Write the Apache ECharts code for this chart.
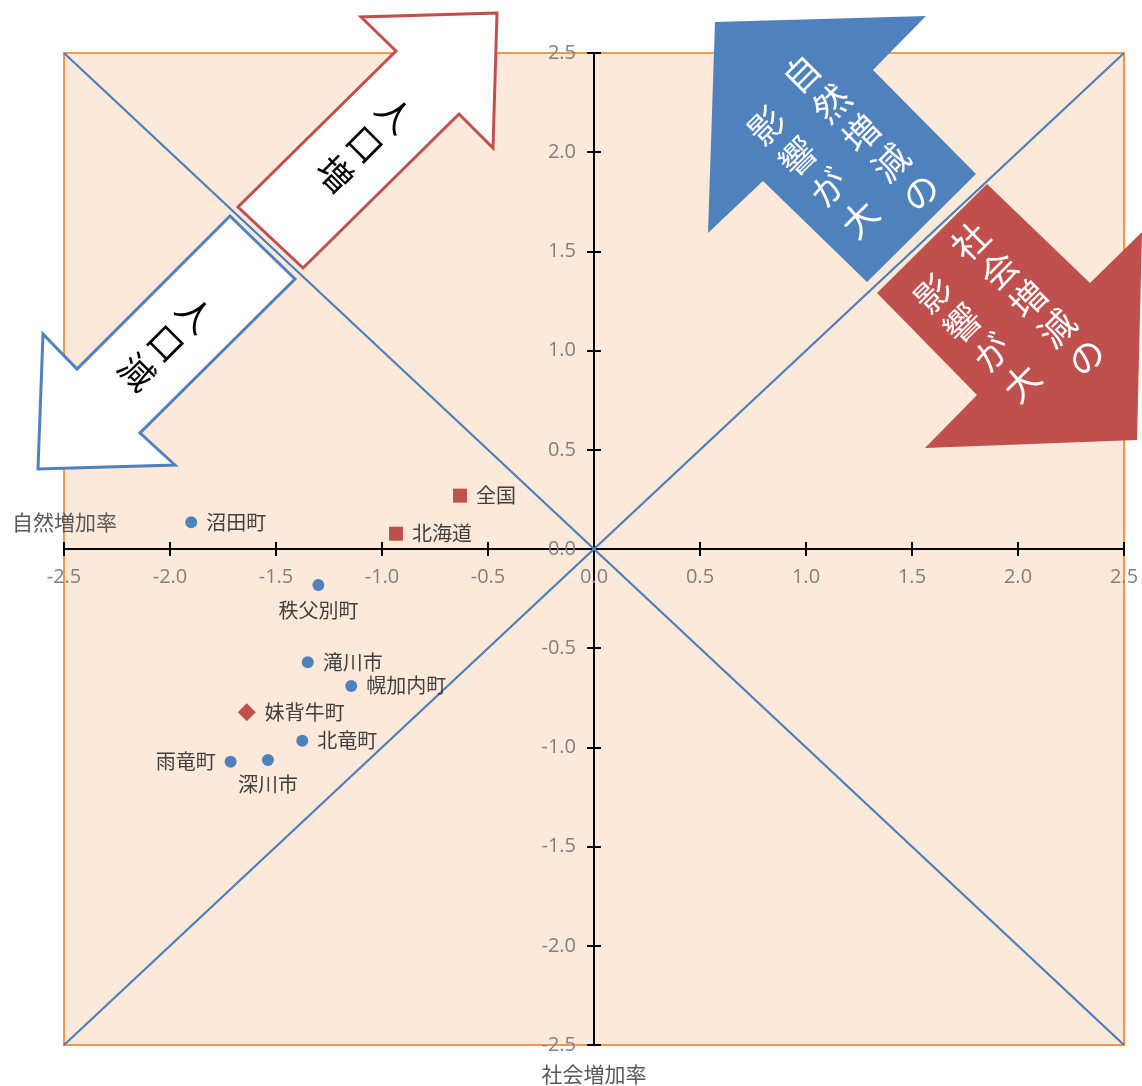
<!DOCTYPE html>
<html lang="ja">
<head>
<meta charset="utf-8">
<title>社会増加率と自然増加率</title>
<script src="https://cdn.jsdelivr.net/npm/echarts@6/dist/echarts.min.js"></script>
<style>
  html, body { margin: 0; padding: 0; background: #ffffff; }
  #chart { width: 1142px; height: 1086px; }
</style>
</head>
<body>
<div id="chart"></div>
<script>
// 市町村（青い丸）
const towns = ['沼田町', '秩父別町', '滝川市', '幌加内町', '北竜町', '雨竜町', '深川市'];
const townSocial = [-1.90, -1.30, -1.35, -1.145, -1.376, -1.714, -1.538];
const townNatural = [0.135, -0.181, -0.571, -0.690, -0.966, -1.072, -1.063];

// 全国・北海道（赤い四角）
const regions = ['全国', '北海道'];
const regionSocial = [-0.632, -0.934];
const regionNatural = [0.269, 0.077];

// 妹背牛町（赤いひし形）
const focusTown = ['妹背牛町'];
const focusSocial = [-1.638];
const focusNatural = [-0.823];

// 軸の範囲と目盛
const axisMin = -2.5;
const axisMax = 2.5;
const axisStep = 0.5;

// ラベルの位置（指定がなければ右）
const labelSide = { '秩父別町': 'bottom', '深川市': 'bottom', '雨竜町': 'left' };

const BLUE = '#4f81bd';
const RED = '#c0504d';
const JP = '"Noto Sans CJK JP", "Noto Sans", sans-serif';
const NUM = '"Open Sans", "Noto Sans", sans-serif';

// 描画領域
const GRID = { left: 64, right: 18, top: 53, bottom: 41 };
const PLOT_W = 1142 - GRID.left - GRID.right;
const PLOT_H = 1086 - GRID.top - GRID.bottom;

function pointsOf(names, xs, ys) {
  return names.map((n, i) => ({
    name: n,
    value: [xs[i], ys[i]],
    label: { position: labelSide[n] || 'right' }
  }));
}

const dataLabel = {
  show: true,
  formatter: p => p.name,
  color: '#404040',
  fontSize: 20,
  fontFamily: JP,
  distance: 9
};

// 軸は描画領域の中央（値 0 の位置）へずらして交差させる
function valueAxis(position, offset, showLabel) {
  return {
    type: 'value',
    position: position,
    offset: offset,
    min: axisMin,
    max: axisMax,
    interval: axisStep,
    axisLine: { show: true, onZero: false, lineStyle: { color: '#000000', width: 2 } },
    axisTick: { show: true, length: 7, lineStyle: { color: '#000000', width: 2 } },
    axisLabel: {
      show: showLabel,
      showMinLabel: true,
      showMaxLabel: true,
      color: '#7f7f7f',
      fontSize: 20,
      fontFamily: NUM,
      formatter: v => (Math.abs(v) < 1e-9 ? 0 : v).toFixed(1)
    },
    splitLine: { show: false }
  };
}

const xAxisMain = valueAxis('bottom', -PLOT_H / 2, true);
xAxisMain.axisLabel.margin = 18;
const yAxisMain = valueAxis('left', -PLOT_W / 2, true);
yAxisMain.axisLabel.margin = 18;

// 矢印（ブロック矢印）
function arrow(points, fill, stroke) {
  return {
    type: 'polygon',
    z: 100,
    shape: { points: points },
    style: { fill: fill, stroke: stroke || null, lineWidth: stroke ? 3 : 0, lineJoin: 'miter' }
  };
}

// 縦書きの一列を回転して置く
function column(chars, x, y, rot, color, size, lh) {
  return {
    type: 'text',
    z: 101,
    x: x,
    y: y,
    rotation: rot,
    style: {
      text: chars.split('').join('\n'),
      fill: color,
      fontSize: size,
      fontFamily: JP,
      lineHeight: lh,
      align: 'center',
      verticalAlign: 'middle'
    }
  };
}

const CW45 = -Math.PI / 4;
const CCW45 = Math.PI / 4;

const option = {
  backgroundColor: '#ffffff',
  animation: false,
  grid: {
    left: GRID.left, right: GRID.right, top: GRID.top, bottom: GRID.bottom,
    show: true,
    backgroundColor: '#fde9d9',
    borderColor: '#f79646',
    borderWidth: 2
  },
  xAxis: [xAxisMain, valueAxis('top', -PLOT_H / 2, false)],
  yAxis: [yAxisMain, valueAxis('right', -PLOT_W / 2, false)],
  series: [
    {
      type: 'line',
      xAxisIndex: 0, yAxisIndex: 0,
      data: [[axisMin, axisMax], [axisMax, axisMin]],
      showSymbol: false,
      lineStyle: { color: '#4a7ebb', width: 2.2 },
      silent: true, z: 1
    },
    {
      type: 'line',
      xAxisIndex: 0, yAxisIndex: 0,
      data: [[axisMin, axisMin], [axisMax, axisMax]],
      showSymbol: false,
      lineStyle: { color: '#4a7ebb', width: 2.2 },
      silent: true, z: 1
    },
    {
      type: 'scatter',
      xAxisIndex: 0, yAxisIndex: 0,
      symbol: 'circle', symbolSize: 12,
      itemStyle: { color: BLUE, opacity: 1 },
      label: dataLabel,
      data: pointsOf(towns, townSocial, townNatural), z: 5
    },
    {
      type: 'scatter',
      xAxisIndex: 0, yAxisIndex: 0,
      symbol: 'rect', symbolSize: 14,
      itemStyle: { color: RED, opacity: 1 },
      label: dataLabel,
      data: pointsOf(regions, regionSocial, regionNatural), z: 5
    },
    {
      type: 'scatter',
      xAxisIndex: 0, yAxisIndex: 0,
      symbol: 'diamond', symbolSize: 18,
      itemStyle: { color: RED, opacity: 1 },
      label: dataLabel,
      data: pointsOf(focusTown, focusSocial, focusNatural), z: 5
    }
  ],
  graphic: [
    // 軸タイトル
    { type: 'text', z: 50, x: 12, y: 522,
      style: { text: '自然増加率', fill: '#595959', fontSize: 21, fontFamily: JP, align: 'left', verticalAlign: 'middle' } },
    { type: 'text', z: 50, x: 594, y: 1074,
      style: { text: '社会増加率', fill: '#595959', fontSize: 21, fontFamily: JP, align: 'center', verticalAlign: 'middle' } },

    // 人口増
    arrow([[497, 13], [361, 17], [396, 51], [238, 207], [303, 268], [459, 114], [493, 148]], '#ffffff', RED),
    column('人口増', 365, 144, CW45, '#000000', 35, 42),

    // 人口減
    arrow([[38, 469], [43, 334], [77, 369], [230, 216], [295, 279], [140, 433], [175, 465]], '#ffffff', BLUE),
    column('人口減', 166, 343, CW45, '#000000', 35, 41),

    // 自然増減の影響が大
    arrow([[715, 22], [926, 16], [873, 70], [976, 174], [867, 282], [763, 181], [708, 233]], BLUE),
    column('自然増減の', 861, 133, CCW45, '#ffffff', 36, 42),
    column('影響が大', 813, 172, CCW45, '#ffffff', 36, 44),

    // 社会増減の影響が大
    arrow([[987, 184], [1090, 283], [1142, 232], [1137, 440], [925, 448], [977, 395], [877, 293]], RED),
    column('社会増減の', 1028, 299, CCW45, '#ffffff', 36, 41),
    column('影響が大', 977, 338, CCW45, '#ffffff', 36, 42)
  ]
};

const chart = echarts.init(document.getElementById('chart'), null, { renderer: 'canvas' });
chart.setOption(option);
</script>
</body>
</html>
